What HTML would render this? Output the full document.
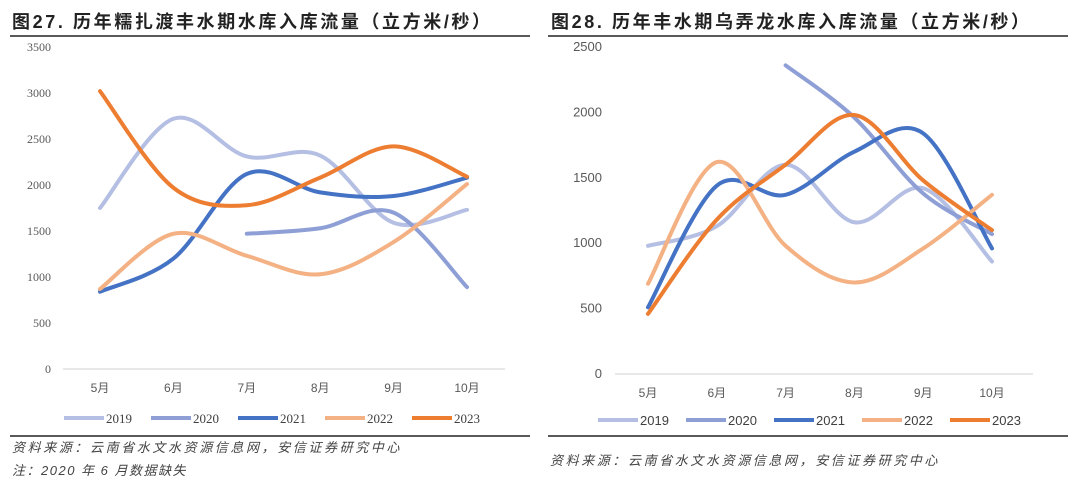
<!DOCTYPE html>
<html><head><meta charset="utf-8">
<style>
body{margin:0;background:#fff;width:1080px;height:488px;overflow:hidden;font-family:"Liberation Sans","Noto Sans CJK SC",sans-serif;}
svg{position:absolute;left:0;top:0}
</style></head>
<body>
<svg id="c" width="1080" height="488">
  <text x="12" y="28" font-size="18" font-weight="bold" letter-spacing="2.6" fill="#222" font-family="Liberation Sans, Noto Sans CJK SC, sans-serif">图27. 历年糯扎渡丰水期水库入库流量（立方米/秒）</text>
  <line x1="10" y1="36" x2="530" y2="36" stroke="#222" stroke-width="1.5"/>
  <text x="551" y="28" font-size="18" font-weight="bold" letter-spacing="2.6" fill="#222" font-family="Liberation Sans, Noto Sans CJK SC, sans-serif">图28. 历年丰水期乌弄龙水库入库流量（立方米/秒）</text>
  <line x1="548" y1="36" x2="1068" y2="36" stroke="#222" stroke-width="1.5"/>
  <line x1="10" y1="436" x2="530" y2="436" stroke="#222" stroke-width="1.5"/>
  <line x1="548" y1="436" x2="1068" y2="436" stroke="#222" stroke-width="1.5"/>
  <text x="12" y="452" font-size="13" font-style="italic" letter-spacing="2.6" fill="#444">资料来源：云南省水文水资源信息网，安信证券研究中心</text>
  <text x="12" y="475" font-size="13" font-style="italic" letter-spacing="1.5" fill="#444">注：2020 年 6 月数据缺失</text>
  <text x="550" y="465" font-size="13" font-style="italic" letter-spacing="2.6" fill="#444">资料来源：云南省水文水资源信息网，安信证券研究中心</text>
  <g id="left"></g><g id="right"></g>
</svg>
<script>
const months = ["5月","6月","7月","8月","9月","10月"];
const years = ["2019","2020","2021","2022","2023"];
const colors = ["#b4bfe3","#8e9fd6","#4472c4","#f4b183","#ed7d31"];
const leftTicks = [0,500,1000,1500,2000,2500,3000,3500];
const left2019 = [1750,2720,2310,2320,1590,1730];
const left2020 = [null,null,1470,1530,1700,890];
const left2021 = [840,1200,2120,1920,1880,2080];
const left2022 = [870,1470,1230,1030,1380,2010];
const left2023 = [3020,1970,1780,2080,2420,2090];
const rightTicks = [0,500,1000,1500,2000,2500];
const right2019 = [980,1130,1600,1160,1420,860];
const right2020 = [null,null,2360,1960,1380,1070];
const right2021 = [510,1440,1370,1700,1840,960];
const right2022 = [690,1620,980,700,960,1370];
const right2023 = [460,1180,1600,1980,1480,1100];

const NS="http://www.w3.org/2000/svg";
function mk(tag,attrs,parent){const e=document.createElementNS(NS,tag);for(const k in attrs)e.setAttribute(k,attrs[k]);parent.appendChild(e);return e;}

function smooth(pts){
  let d="M"+pts[0][0]+","+pts[0][1];
  for(let i=0;i<pts.length-1;i++){
    const p0=pts[i-1]||pts[i],p1=pts[i],p2=pts[i+1],p3=pts[i+2]||p2;
    const t=1/6;
    const c1=[p1[0]+(p2[0]-p0[0])*t,p1[1]+(p2[1]-p0[1])*t];
    const c2=[p2[0]-(p3[0]-p1[0])*t,p2[1]-(p3[1]-p1[1])*t];
    d+=" C"+c1+" "+c2+" "+p2;
  }
  return d;
}

function draw(g,cfg,series){
  const x=i=>cfg.x0+i*cfg.dx;
  const y=v=>cfg.y0-(v/cfg.max)*(cfg.y0-cfg.ytop);
  const axis=mk("line",{x1:cfg.ax1,x2:cfg.ax2,y1:cfg.y0,y2:cfg.y0,stroke:"#d9d9d9","stroke-width":1.2},g);
  
  
  cfg.ticks.forEach(t=>{
    const tx=mk("text",{x:cfg.tickX,y:y(t)+4,"text-anchor":"end","font-size":cfg.tfs,fill:"#595959","font-family":cfg.tfont},g);
    tx.textContent=t;
    
    
  });
  months.forEach((m,i)=>{
    const tx=mk("text",{x:x(i),y:cfg.y0+23,"text-anchor":"middle","font-size":12,fill:"#595959"},g);
    tx.textContent=m;
    
    
  });
  series.forEach((s,k)=>{
    const pts=[];s.forEach((v,i)=>{if(v!==null)pts.push([x(i),y(v)]);});
    const p=mk("path",{d:smooth(pts),fill:"none",stroke:colors[k],"stroke-width":4,"stroke-linecap":"round"},g);
    
    
  });
  years.forEach((yr,k)=>{
    const lx=cfg.lx+k*cfg.ldx;
    const l=mk("line",{x1:lx,x2:lx+40,y1:cfg.ly,y2:cfg.ly,stroke:colors[k],"stroke-width":4},g);
    
    
    const t=mk("text",{x:lx+42,y:cfg.ly+5,"font-size":13,fill:"#404040","font-family":cfg.lfont},g);
    t.textContent=yr;
    
    
  });
}
draw(document.getElementById("left"),{x0:100,dx:73.4,y0:369,ytop:47,max:3500,ax1:63,ax2:505,ticks:leftTicks,tickX:51,tfs:12,tfont:"Liberation Serif, serif",lx:64,ldx:87,ly:418,lfont:"Liberation Serif, serif"},[left2019,left2020,left2021,left2022,left2023]);
draw(document.getElementById("right"),{x0:648,dx:68.8,y0:374,ytop:47,max:2500,ax1:615,ax2:1033,ticks:rightTicks,tickX:602,tfs:13,tfont:"Liberation Sans, sans-serif",lx:598,ldx:88,ly:420,lfont:"Liberation Sans, sans-serif"},[right2019,right2020,right2021,right2022,right2023]);
</script>
</body></html>
